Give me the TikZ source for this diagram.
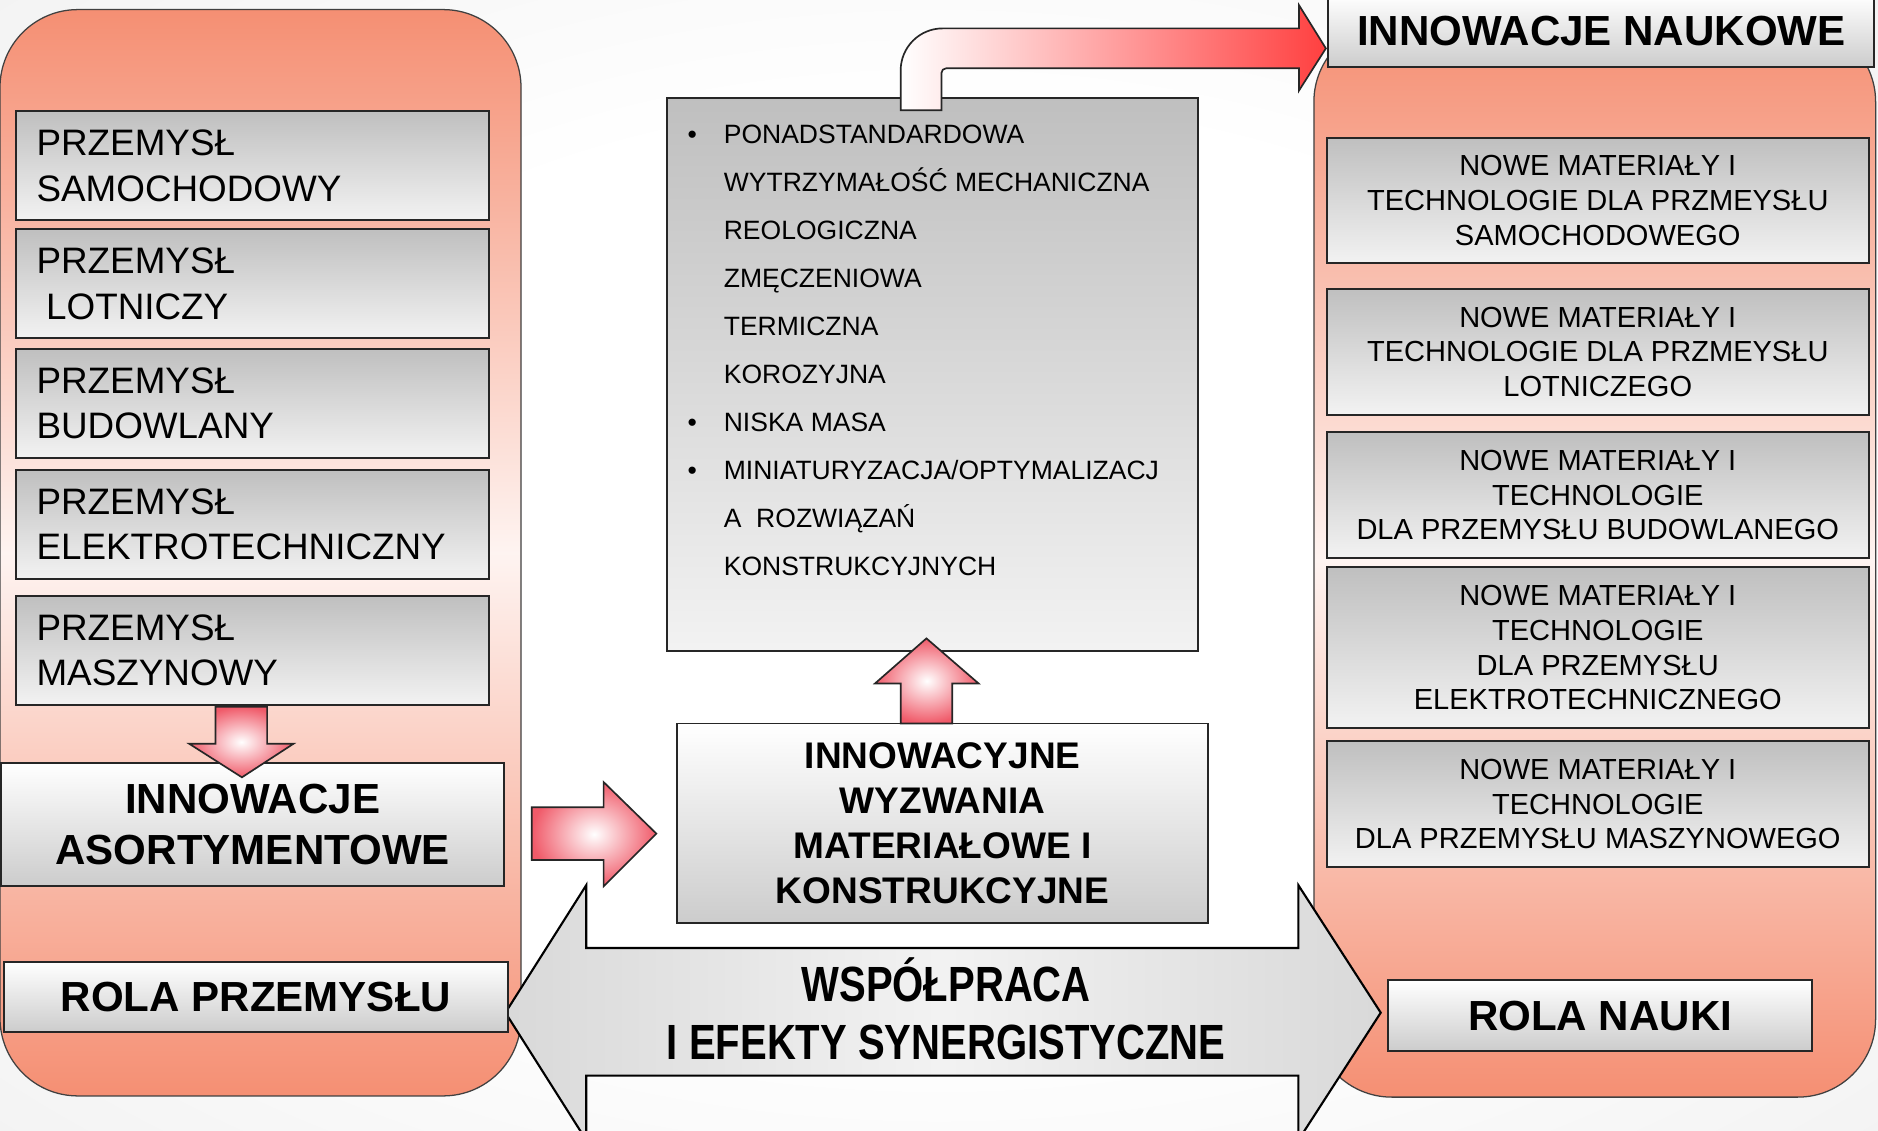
\documentclass[tikz,border=0pt]{standalone}
\usepackage{fontspec}
\setmainfont{Liberation Sans}
\newfontfamily\waska{Liberation Sans}[FakeStretch=0.81]
\usetikzlibrary{calc}
\usetikzlibrary{positioning}
\definecolor{losos}{RGB}{245,143,115}
\definecolor{czerwien}{RGB}{240,90,105}
\pgfdeclareradialshading{tlo}{\pgfpoint{0bp}{0bp}}{color(0bp)=(white); color(20bp)=(white); color(50bp)=(gray!18); color(71bp)=(gray!32)}

\begin{document}
\begin{tikzpicture}[x=0.02cm, y=-0.02cm,
  szara/.style={draw=black!85, line width=0.9pt, top color=gray!50, bottom color=gray!10},
  biala/.style={draw=black!85, line width=0.9pt, top color=white, bottom color=gray!40,
    align=center, font=\bfseries\fontsize{20}{24.4}\selectfont},
  panel/.style={draw=black!75, line width=0.6pt, rounded corners=1.3cm,
    top color=losos, bottom color=losos, middle color=losos!10},
  strzalka/.style={draw=black!85, line width=0.8pt, inner color=white, outer color=czerwien}]
\useasboundingbox (0,0) rectangle (1568,944);
\clip (0,0) rectangle (1568,944);
\shade[shading=tlo] (0,0) rectangle (1568,944);

%panele
\path[panel] (0,8) rectangle (435,915);
\path[panel] (1097,20) rectangle (1566,916);

%wspolpraca
\draw[line width=1pt, left color=gray!30, right color=gray!30, middle color=gray!10]
  (422,845.5) -- (489.5,739) -- (489.5,791.5) -- (1084,791.5) -- (1084,739) -- (1152.8,845.5)
  -- (1084,952) -- (1084,898) -- (489.5,898) -- (489.5,952) -- cycle;
\node[font=\waska\bfseries\fontsize{23.5}{27.6}\selectfont, align=center] (wsp) at (790,842)
  {WSPÓŁPRACA\\I EFEKTY SYNERGISTYCZNE};

%przemysl
\foreach \nazwa/\y [count=\i] in {SAMOCHODOWY/138.5, {\hspace*{0.16cm}LOTNICZY}/237,
    BUDOWLANY/337, ELEKTROTECHNICZNY/438, MASZYNOWY/543}
  \node[szara, minimum width=7.9cm, minimum height=1.82cm, text width=7.22cm, inner xsep=0.34cm,
    align=left, font=\fontsize{17.5}{21.5}\selectfont] (p\i) at (211,\y) {PRZEMYSŁ\\\nazwa};
\node[biala, minimum width=8.4cm, minimum height=2.05cm] (ia) at (211,688.5) {INNOWACJE\\ASORTYMENTOWE};
\node[biala, minimum width=8.41cm, minimum height=1.18cm] (rp) at (213.7,832.5) {ROLA PRZEMYSŁU};

%wymagania
\node[szara, minimum width=8.86cm, minimum height=9.23cm] (wym) at (778.5,312.7) {};
\foreach \linia [count=\i] in {PONADSTANDARDOWA, WYTRZYMAŁOŚĆ MECHANICZNA, REOLOGICZNA,
    ZMĘCZENIOWA, TERMICZNA, KOROZYJNA, NISKA MASA, {MINIATURYZACJA/OPTYMALIZACJ},
    {A\ \ ROZWIĄZAŃ}, KONSTRUKCYJNYCH}
  \node[anchor=base west, inner sep=0pt, font=\fontsize{12.6}{15}\selectfont] (w\i)
    at (604,{120+40.1*(\i-1)}) {\linia};
\foreach \i in {1,7,8}
  \node[anchor=base, inner sep=0pt, font=\fontsize{12.6}{15}\selectfont] (k\i)
    at (578,{120+40.1*(\i-1)}) {•};
\node[biala, minimum width=8.86cm, minimum height=3.34cm, font=\bfseries\fontsize{17.6}{21.4}\selectfont]
  (iw) at (787,687.5) {INNOWACYJNE\\WYZWANIA\\MATERIAŁOWE I\\KONSTRUKCYJNE};

%nauka
\node[biala, minimum width=9.12cm, minimum height=1.2cm] (in) at (1337,26) {INNOWACJE NAUKOWE};
\foreach \tekst/\y/\h [count=\i] in {{TECHNOLOGIE DLA PRZMEYSŁU\\SAMOCHODOWEGO}/167.4/2.1,
    {TECHNOLOGIE DLA PRZMEYSŁU\\LOTNICZEGO}/293.7/2.1,
    {TECHNOLOGIE\\DLA PRZEMYSŁU BUDOWLANEGO}/413.5/2.1,
    {TECHNOLOGIE\\DLA PRZEMYSŁU\\ELEKTROTECHNICZNEGO}/540.8/2.69,
    {TECHNOLOGIE\\DLA PRZEMYSŁU MASZYNOWEGO}/671.5/2.1}
  \node[szara, minimum width=9.05cm, minimum height=\h cm, align=center,
    font=\fontsize{13.8}{16.5}\selectfont] (n\i) at (1334,\y) {NOWE MATERIAŁY I\\\tekst};
\node[biala, minimum width=7.08cm, minimum height=1.19cm] (rn) at (1336,848) {ROLA NAUKI};

%strzalki
\draw[strzalka] (180,590) -- (223,590) -- (223,621) -- (245,621) -- (202,649) -- (158,621)
  -- (180,621) -- cycle;
\draw[strzalka] (444,674) -- (504,674) -- (504,653) -- (548,696) -- (504,740) -- (504,718)
  -- (444,718) -- cycle;
\draw[strzalka] (752,604) -- (752,570.6) -- (730.6,570.6) -- (773.5,533) -- (817,570.6)
  -- (795,570.6) -- (795,604) -- cycle;
\draw[line width=0.8pt, draw=black!85, left color=white, right color=red!75!white]
  (752,92) -- (752,58.7) .. controls (752,39.4) and (767.7,23.7) .. (787,23.7) -- (1084.5,23.7)
  -- (1084.5,4.2) -- (1107,40.4) -- (1084.5,75.7) -- (1084.5,57) -- (790,57)
  .. controls (787.8,57) and (786,58.8) .. (786,61) -- (786,92) -- cycle;
\end{tikzpicture}
\end{document}
